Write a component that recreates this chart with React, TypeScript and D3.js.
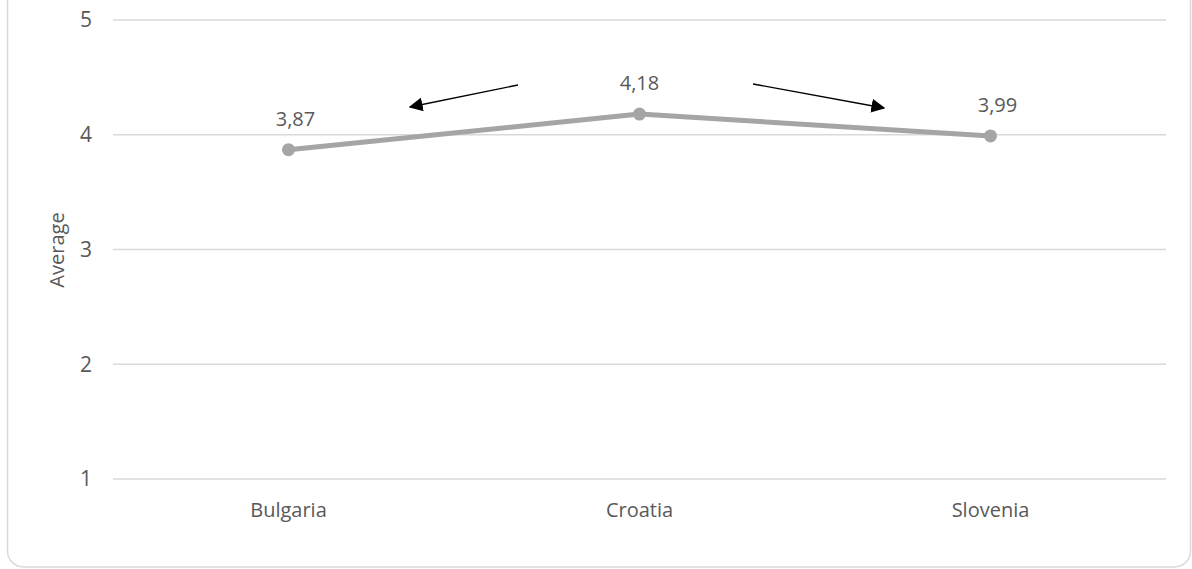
import React from "react";
import * as d3 from "d3";

const categories = ["Bulgaria", "Croatia", "Slovenia"];
const values = [3.87, 4.18, 3.99];
const valueLabels = ["3,87", "4,18", "3,99"];
const yTicks = [1, 2, 3, 4, 5];
const yTitle = "Average";

const W = 1192;
const H = 569;
const FONT = "'Open Sans', 'DejaVu Sans', sans-serif";
const TEXT = "#595959";

export default function App() {
  const x = d3.scaleBand<string>().domain(categories).range([113, 1166]);
  const y = d3.scaleLinear().domain([1, 5]).range([479, 20]);
  const cx = (c: string) => (x(c) ?? 0) + x.bandwidth() / 2;
  const pts: [number, number][] = categories.map((c, i) => [cx(c), y(values[i])]);
  const line = d3.line()(pts) ?? "";

  // annotation arrows (relative to the category positions)
  const leftArrow = { x1: 518, y1: 85, x2: 410, y2: 107 };
  const rightArrow = { x1: 753, y1: 84, x2: 884, y2: 108 };

  return (
    <svg width={W} height={H} style={{ position: "absolute", left: 0, top: 0, background: "#fff" }}>
      <defs>
        <marker id="ah" viewBox="0 0 10 10" refX="9" refY="5" markerWidth="14" markerHeight="14" markerUnits="userSpaceOnUse" orient="auto">
          <path d="M0,0 L10,5 L0,10 z" fill="#000" />
        </marker>
      </defs>
      <rect x={7.5} y={-30} width={1183} height={597} rx={16} fill="#fff" stroke="#d9d9d9" strokeWidth={1.5} />
      {yTicks.map((t) => (
        <g key={t}>
          <line x1={113} x2={1166} y1={y(t)} y2={y(t)} stroke="#d9d9d9" strokeWidth={1.5} />
          <text x={92} y={y(t)} dy="0.35em" textAnchor="end" fontFamily={FONT} fontSize={21} fill={TEXT}>
            {t}
          </text>
        </g>
      ))}
      <text
        transform={`translate(${64},${250}) rotate(-90)`}
        textAnchor="middle"
        fontFamily={FONT}
        fontSize={20}
        fill={TEXT}
      >
        {yTitle}
      </text>
      {categories.map((c) => (
        <text key={c} x={cx(c)} y={517} textAnchor="middle" fontFamily={FONT} fontSize={20} fill={TEXT}>
          {c}
        </text>
      ))}
      <path d={line} fill="none" stroke="#a5a5a5" strokeWidth={5} strokeLinejoin="round" />
      {pts.map((p, i) => (
        <circle key={i} cx={p[0]} cy={p[1]} r={6.5} fill="#a5a5a5" />
      ))}
      {pts.map((p, i) => (
        <text key={"l" + i} x={p[0] + (i === 1 ? 0 : 7)} y={p[1] - 24} textAnchor="middle" fontFamily={FONT} fontSize={20} fill={TEXT}>
          {valueLabels[i]}
        </text>
      ))}
      <line {...leftArrow} stroke="#000" strokeWidth={1.3} markerEnd="url(#ah)" />
      <line {...rightArrow} stroke="#000" strokeWidth={1.3} markerEnd="url(#ah)" />
    </svg>
  );
}
